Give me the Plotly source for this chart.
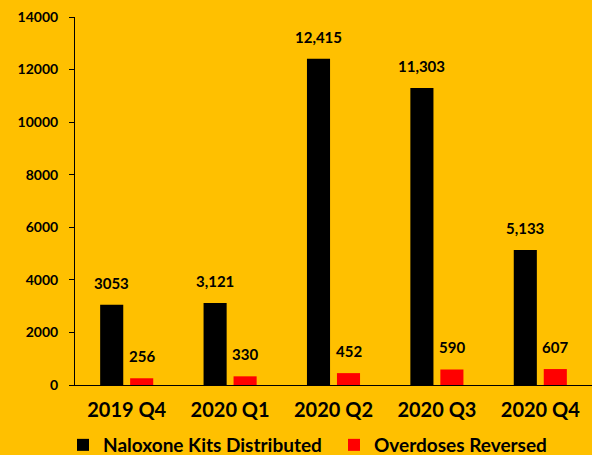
import plotly.graph_objects as go

categories = ["2019 Q4", "2020 Q1", "2020 Q2", "2020 Q3", "2020 Q4"]
kits = [3053, 3121, 12415, 11303, 5133]
kits_labels = ["3053", "3,121", "12,415", "11,303", "5,133"]
reversed_ = [256, 330, 452, 590, 607]
reversed_labels = ["256", "330", "452", "590", "607"]
y_ticks = [0, 2000, 4000, 6000, 8000, 10000, 12000, 14000]
y_tick_labels = [str(v) for v in y_ticks]

BG = "#FFC000"
FONT = "Lato"

fig = go.Figure()
fig.add_trace(go.Bar(name="Naloxone Kits Distributed", x=categories, y=kits,
                     marker=dict(color="black", line=dict(width=0)), legend="legend"))
fig.add_trace(go.Bar(name="Overdoses Reversed", x=categories, y=reversed_,
                     marker=dict(color="#FF0000", line=dict(width=0)), legend="legend2"))

for c, v, t in zip(categories, kits, kits_labels):
    fig.add_annotation(x=c, y=v, text=t, showarrow=False, xshift=-15, yshift=22,
                       font=dict(family=FONT, size=15, color="black", weight="bold"))
for c, v, t in zip(categories, reversed_, reversed_labels):
    fig.add_annotation(x=c, y=v, text=t, showarrow=False, xshift=15, yshift=22,
                       font=dict(family=FONT, size=15, color="black", weight="bold"))

legend_common = dict(orientation="h", xref="container", xanchor="left",
                     yref="container", yanchor="middle", y=10 / 455,
                     font=dict(family=FONT, size=19, color="black", weight="bold"),
                     itemwidth=30, bgcolor="rgba(0,0,0,0)")

fig.update_layout(
    width=592, height=455,
    paper_bgcolor=BG, plot_bgcolor=BG,
    margin=dict(l=75, r=0, t=17, b=70, autoexpand=False),
    barmode="group", bargap=0.42, bargroupgap=0.23,
    font=dict(family=FONT, color="black"),
    showlegend=True,
    legend=dict(x=63 / 592, **legend_common),
    legend2=dict(x=334 / 592, **legend_common),
    xaxis=dict(showline=True, linecolor="black", linewidth=1,
               ticks="outside", ticklen=7, tickcolor=BG,
               tickfont=dict(family=FONT, size=20, color="black", weight="bold"),
               showgrid=False),
    yaxis=dict(range=[0, 14000], tickvals=y_ticks, ticktext=y_tick_labels,
               showline=True, linecolor="black",
               linewidth=1, ticks="outside", ticklen=5, tickcolor="black",
               showgrid=False, zeroline=False, ticklabelstandoff=8,
               tickfont=dict(family=FONT, size=14, color="black", weight="bold")),
)

fig.write_html("out.html", config={"displayModeBar": False},
               post_script="document.body.style.margin='0';document.body.style.padding='0';")
